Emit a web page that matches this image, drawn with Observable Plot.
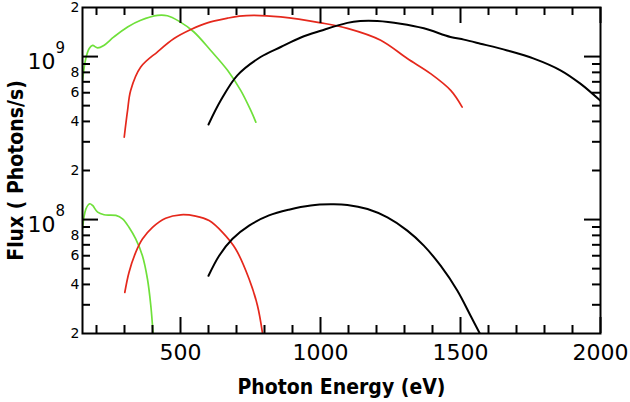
<!DOCTYPE html>
<html>
<head>
<meta charset="utf-8">
<script src="https://cdn.jsdelivr.net/npm/d3@7"></script>
<script src="https://cdn.jsdelivr.net/npm/@observablehq/plot@0.6"></script>
<style>
  html, body { margin: 0; padding: 0; background: #fff; }
</style>
</head>
<body>
<div id="chart"></div>
<script>
// ---- Data ----
const xTitle = "Photon Energy (eV)";
const yTitle = "Flux ( Photons/s)";

const xMajorTicks = [500, 1000, 1500, 2000];
const xMinorTicks = [200, 300, 400, 600, 700, 800, 900, 1100, 1200, 1300, 1400, 1600, 1700, 1800, 1900];
const yMajorTicks = [1e8, 1e9];
const yMinorTicks = [3e7, 4e7, 5e7, 6e7, 7e7, 8e7, 9e7, 2e8, 3e8, 4e8, 5e8, 6e8, 7e8, 8e8, 9e8];
const yDigitLabels = [2e7, 4e7, 6e7, 8e7, 2e8, 4e8, 6e8, 8e8, 2e9];

// upper set
const greenHiEnergy = [150, 162, 174, 186, 204, 226, 262, 311, 358, 418, 453, 494, 547, 608, 668, 715, 751, 769];
const greenHiFlux   = [7.15e8, 9.76e8, 1.12e9, 1.17e9, 1.13e9, 1.17e9, 1.32e9, 1.52e9, 1.67e9, 1.79e9, 1.78e9, 1.65e9, 1.42e9, 1.09e9, 8.24e8, 6.2e8, 4.67e8, 3.96e8];

const redHiEnergy = [299, 311, 322, 358, 418, 477, 537, 596, 668, 710, 763, 858, 1001, 1096, 1215, 1310, 1393, 1465, 1506];
const redHiFlux   = [3.2e8, 4.67e8, 6.2e8, 8.63e8, 1.07e9, 1.29e9, 1.465e9, 1.61e9, 1.72e9, 1.77e9, 1.79e9, 1.75e9, 1.61e9, 1.49e9, 1.26e9, 9.72e8, 7.86e8, 6.2e8, 4.9e8];

const blackHiEnergy = [600, 644, 703, 786, 858, 930, 1001, 1096, 1142, 1203, 1286, 1369, 1464, 1512, 1571, 1667, 1762, 1857, 1928, 2000];
const blackHiFlux   = [3.83e8, 5.39e8, 7.67e8, 9.94e8, 1.145e9, 1.31e9, 1.44e9, 1.61e9, 1.65e9, 1.65e9, 1.59e9, 1.49e9, 1.32e9, 1.27e9, 1.2e9, 1.09e9, 9.72e8, 8.24e8, 6.82e8, 5.35e8];

// lower set
const greenLoEnergy = [150, 162, 176, 186, 204, 227, 269, 293, 316, 340, 364, 382, 394, 402];
const greenLoFlux   = [8.77e7, 1.16e8, 1.25e8, 1.22e8, 1.11e8, 1.07e8, 1.06e8, 1.01e8, 8.97e7, 7.6e7, 6.0e7, 4.32e7, 2.96e7, 2.0e7];

const redLoEnergy = [301, 316, 340, 364, 400, 447, 501, 554, 602, 650, 697, 745, 775, 793];
const redLoFlux   = [3.57e7, 4.74e7, 6.29e7, 7.6e7, 8.97e7, 1.02e8, 1.07e8, 1.05e8, 9.86e7, 8.35e7, 6.6e7, 4.32e7, 2.96e7, 2.0e7];

const blackLoEnergy = [600, 638, 685, 745, 816, 887, 965, 1036, 1096, 1168, 1239, 1310, 1369, 1429, 1489, 1536, 1569];
const blackLoFlux   = [4.52e7, 6.0e7, 7.6e7, 9.18e7, 1.06e8, 1.15e8, 1.22e8, 1.24e8, 1.23e8, 1.16e8, 1.03e8, 8.55e7, 6.92e7, 5.21e7, 3.66e7, 2.57e7, 2.0e7];

// ---- Build ----
const rows = (e, f) => e.map((v, i) => ({e: v, f: f[i]}));
const W = 630, H = 402, mL = 82, mR = 30, mT = 7, mB = 69;
const fw = W - mL - mR, fh = H - mT - mB;
const GREEN = "#6fe03a", RED = "#e5281c", BLACK = "#000";
const font = "'DejaVu Sans Condensed', 'DejaVu Sans', sans-serif";
const minorLen = 8, majorLen = 16;

const lineOpts = (stroke, sw) => ({x: "e", y: "f", stroke, strokeWidth: sw, curve: "catmull-rom", clip: true});
const digit = d => String(Math.round(d / Math.pow(10, Math.floor(Math.log10(d) + 1e-9))));
const expo = d => String(Math.round(Math.log10(d)));

const chart = Plot.plot({
  width: W, height: H,
  marginLeft: mL, marginRight: mR, marginTop: mT, marginBottom: mB,
  style: {fontFamily: "'DejaVu Sans', sans-serif", background: "#fff", color: "#000"},
  x: {type: "linear", domain: [150, 2000], axis: null},
  y: {type: "log", domain: [2e7, 2e9], axis: null},
  marks: [
    // curves
    Plot.line(rows(greenHiEnergy, greenHiFlux), lineOpts(GREEN, 1.7)),
    Plot.line(rows(redHiEnergy, redHiFlux), lineOpts(RED, 1.7)),
    Plot.line(rows(blackHiEnergy, blackHiFlux), lineOpts(BLACK, 2)),
    Plot.line(rows(greenLoEnergy, greenLoFlux), lineOpts(GREEN, 1.7)),
    Plot.line(rows(redLoEnergy, redLoFlux), lineOpts(RED, 1.7)),
    Plot.line(rows(blackLoEnergy, blackLoFlux), lineOpts(BLACK, 2)),
    // inward ticks: y left / right
    Plot.tickY(yMinorTicks, {y: d => d, insetRight: fw - minorLen, strokeWidth: 2}),
    Plot.tickY(yMinorTicks, {y: d => d, insetLeft: fw - minorLen, strokeWidth: 2}),
    Plot.tickY(yMajorTicks, {y: d => d, insetRight: fw - majorLen, strokeWidth: 2}),
    Plot.tickY(yMajorTicks, {y: d => d, insetLeft: fw - majorLen, strokeWidth: 2}),
    // inward ticks: x bottom / top
    Plot.tickX(xMinorTicks, {x: d => d, insetTop: fh - minorLen, strokeWidth: 2}),
    Plot.tickX(xMinorTicks, {x: d => d, insetBottom: fh - minorLen, strokeWidth: 2}),
    Plot.tickX(xMajorTicks, {x: d => d, insetTop: fh - majorLen, strokeWidth: 2}),
    Plot.tickX(xMajorTicks, {x: d => d, insetBottom: fh - majorLen, strokeWidth: 2}),
    Plot.frame({strokeWidth: 2}),
    // tick labels
    Plot.text(xMajorTicks, {x: d => d, frameAnchor: "bottom", dy: 11, lineAnchor: "top", text: d => String(d), fontSize: 22}),
    Plot.text(yDigitLabels, {y: d => d, frameAnchor: "left", dx: -3, textAnchor: "end", text: digit, fontSize: 14}),
    Plot.text(yMajorTicks, {y: d => d, frameAnchor: "left", dx: -27, dy: 5, textAnchor: "end", text: () => "10", fontSize: 22}),
    Plot.text(yMajorTicks, {y: d => d, frameAnchor: "left", dx: -27, dy: -8, textAnchor: "start", text: expo, fontSize: 15}),
    // axis titles
    Plot.text([xTitle], {frameAnchor: "bottom", dy: 60, lineAnchor: "bottom", textAnchor: "middle", text: d => d, fontSize: 21, fontWeight: "bold", fontFamily: font}),
    Plot.text([yTitle], {frameAnchor: "left", dx: -66, rotate: -90, textAnchor: "middle", lineAnchor: "middle", text: d => d, fontSize: 21, fontWeight: "bold", fontFamily: font})
  ]
});
document.getElementById("chart").appendChild(chart);
</script>
</body>
</html>
